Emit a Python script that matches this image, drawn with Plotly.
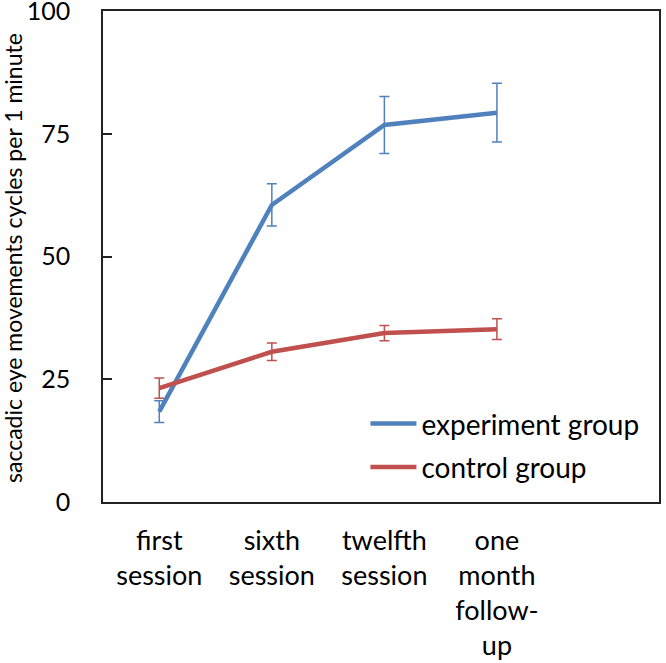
import plotly.graph_objects as go

categories = ["first<br>session", "sixth<br>session", "twelfth<br>session", "one<br>month<br>follow-<br>up"]
experiment = [18.4, 60.5, 76.8, 79.3]
experiment_err = [2.2, 4.3, 5.8, 6.0]
control = [23.2, 30.6, 34.4, 35.2]
control_err = [2.05, 1.8, 1.55, 2.1]
y_ticks = [0, 25, 50, 75, 100]
y_title = "saccadic eye movements cycles per 1 minute"

BLUE = "#4F81BD"
RED = "#C0504D"
FONT = "Lato"

fig = go.Figure()
fig.add_trace(go.Scatter(
    x=categories, y=experiment, mode="lines", name="experiment group",
    legendgroup="exp",
    line=dict(color=BLUE, width=4.5),
    error_y=dict(type="data", array=experiment_err, color=BLUE, thickness=1.5, width=5),
))
fig.add_trace(go.Scatter(
    x=categories, y=control, mode="lines", name="control group",
    legendgroup="ctl",
    line=dict(color=RED, width=4.5),
    error_y=dict(type="data", array=control_err, color=RED, thickness=1.5, width=5),
))

fig.update_layout(
    width=666, height=663,
    margin=dict(l=103, r=7, t=11, b=161),
    paper_bgcolor="white", plot_bgcolor="white",
    font=dict(family=FONT, color="black", size=27),
    showlegend=True,
    legend=dict(x=0.472, y=0.21, xanchor="left", yanchor="top",
                font=dict(size=28, family=FONT), bgcolor="rgba(0,0,0,0)",
                itemwidth=46, tracegroupgap=4),
    annotations=[dict(
        text=y_title, textangle=-90, xref="paper", yref="paper",
        x=-0.161, y=0.498, xanchor="center", yanchor="middle",
        showarrow=False, font=dict(size=23, family=FONT, color="black"),
    )],
)
fig.update_xaxes(
    type="category", range=[-0.5, 4.44], automargin=False,
    showline=True, linecolor="#222", linewidth=1.5, mirror=True,
    showgrid=False, ticks="", tickfont=dict(size=27, family=FONT),
    ticklabelstandoff=14, zeroline=False,
)
fig.update_yaxes(
    range=[0, 100], tickvals=y_ticks, automargin=False,
    showline=True, linecolor="#222", linewidth=1.5, mirror=True,
    showgrid=False, ticks="inside", ticklen=9, tickcolor="#222", tickwidth=1.5,
    tickfont=dict(size=25, family=FONT), zeroline=False,
    ticklabelstandoff=26, ticklabeloverflow="allow",
)

fig.write_html("out.html", config={"displayModeBar": False},
               post_script="document.body.style.margin='0';")
